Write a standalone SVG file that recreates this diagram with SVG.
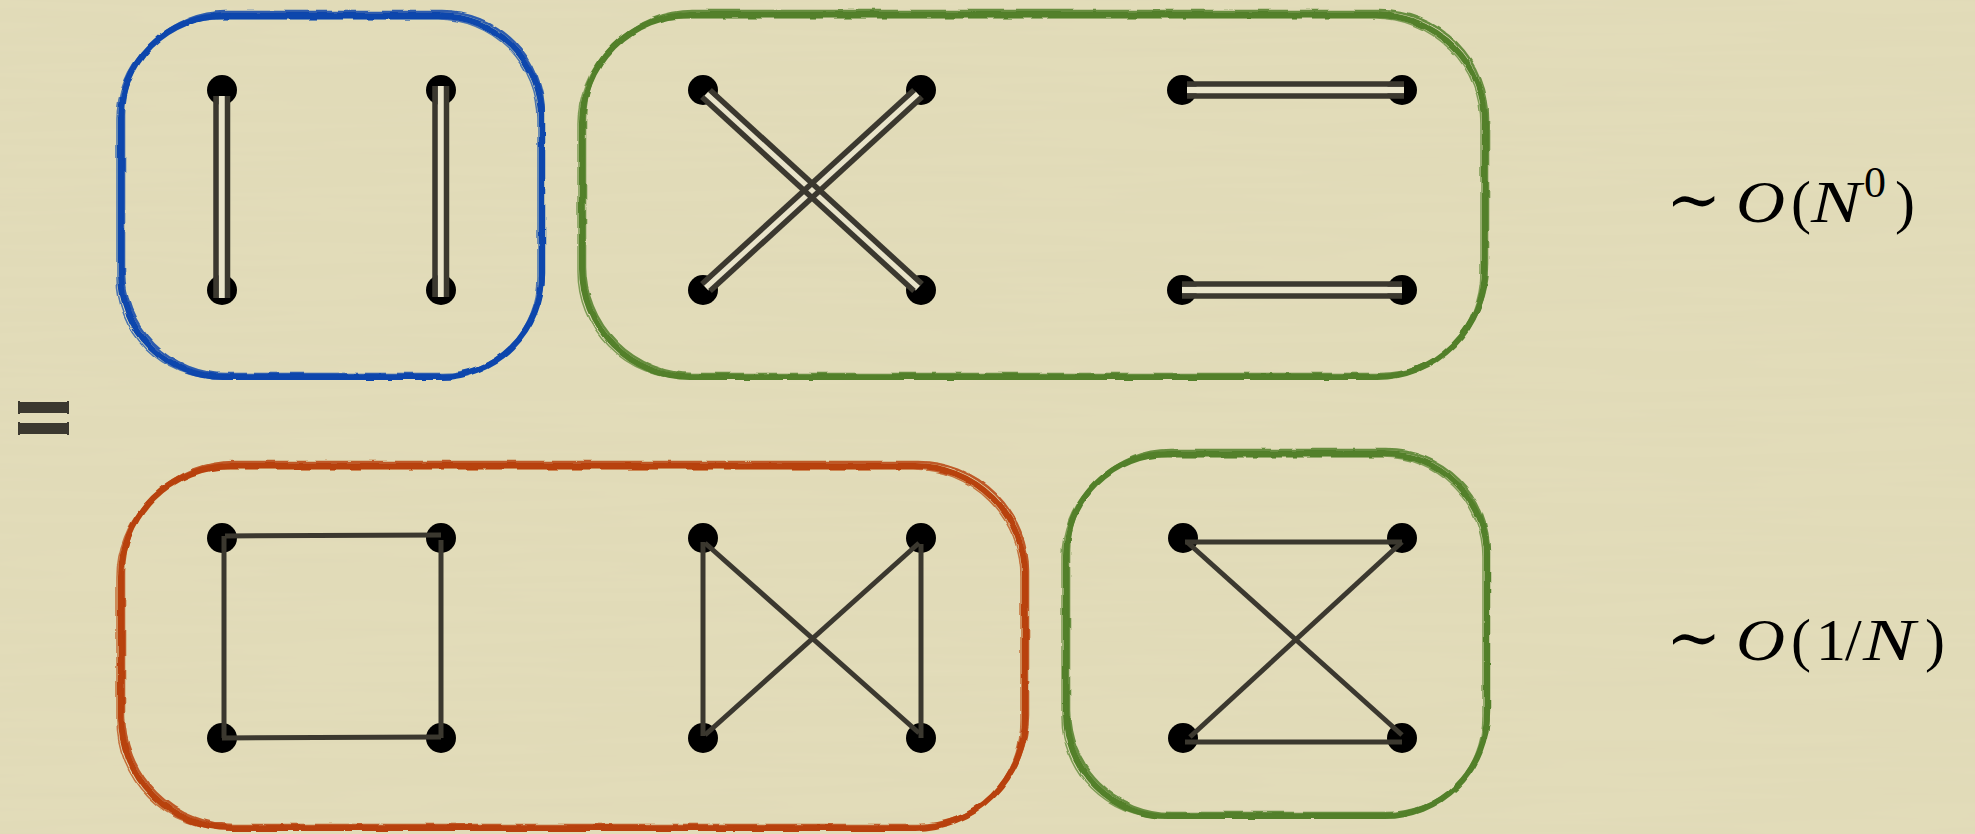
<svg xmlns="http://www.w3.org/2000/svg" width="1975" height="834" viewBox="0 0 1975 834">
<defs>
<filter id="rough" x="-5%" y="-5%" width="110%" height="110%">
<feTurbulence type="fractalNoise" baseFrequency="0.05" numOctaves="2" seed="3" result="n"/>
<feDisplacementMap in="SourceGraphic" in2="n" scale="4" xChannelSelector="R" yChannelSelector="G"/>
</filter>
<filter id="paper" x="0" y="0" width="100%" height="100%">
<feTurbulence type="fractalNoise" baseFrequency="0.004 0.09" numOctaves="2" seed="7" result="t"/>
<feColorMatrix in="t" type="matrix" values="0 0 0 0 0.5  0 0 0 0 0.45  0 0 0 0 0.3  0 0 0 0.08 0"/>
</filter>
</defs>
<style>
.bg{fill:#e3ddba}
.box{fill:none}
.b1{stroke-width:6}
.b2{stroke-width:2.5;opacity:.85}
.b3{stroke-width:1.5;opacity:.7}
.blue{stroke:#0a46ad}
.green{stroke:#52802a}
.orange{stroke:#b8420a}
.dot{fill:#000}
.e{stroke:#3b382f;stroke-width:5;fill:none}
.d{stroke:#3b382f;stroke-width:5.5;fill:none}
.in{stroke:#e9e4ca;stroke-width:7;fill:none}
.eq{stroke:#3b382f;stroke-width:11}
.tk{stroke:#3b382f;stroke-width:2}
</style>
<rect class="bg" x="0" y="0" width="1975" height="834"/>
<rect x="0" y="0" width="1975" height="834" filter="url(#paper)"/>

<g id="box-blue" filter="url(#rough)">
<rect class="box b1 blue" x="121" y="16" width="421" height="361" rx="102"/>
<rect class="box b2 blue" x="124" y="12" width="420" height="362" rx="102"/>
<rect class="box b3 blue" x="117" y="19" width="421" height="359" rx="100"/>
</g>
<g id="box-green-top" filter="url(#rough)">
<rect class="box b1 green" x="582" y="15" width="903" height="362" rx="108"/>
<rect class="box b2 green" x="585" y="11" width="903" height="363" rx="108"/>
<rect class="box b3 green" x="578" y="18" width="903" height="360" rx="106"/>
</g>
<g id="box-orange" filter="url(#rough)">
<rect class="box b1 orange" x="121" y="466" width="904" height="362" rx="110"/>
<rect class="box b2 orange" x="124" y="462" width="904" height="363" rx="110"/>
<rect class="box b3 orange" x="117" y="469" width="904" height="360" rx="108"/>
</g>
<g id="box-green-bottom" filter="url(#rough)">
<rect class="box b1 green" x="1066" y="454" width="421" height="362" rx="102"/>
<rect class="box b2 green" x="1069" y="450" width="420" height="363" rx="102"/>
<rect class="box b3 green" x="1062" y="457" width="421" height="360" rx="100"/>
</g>

<g id="n1"><circle class="dot" cx="222" cy="90" r="15"/></g>
<g id="n2"><circle class="dot" cx="441" cy="90" r="15"/></g>
<g id="n3"><circle class="dot" cx="222" cy="290" r="15"/></g>
<g id="n4"><circle class="dot" cx="441" cy="290" r="15"/></g>
<g id="n5"><circle class="dot" cx="703" cy="90" r="15"/></g>
<g id="n6"><circle class="dot" cx="921" cy="90" r="15"/></g>
<g id="n7"><circle class="dot" cx="703" cy="290" r="15"/></g>
<g id="n8"><circle class="dot" cx="921" cy="290" r="15"/></g>
<g id="n9"><circle class="dot" cx="1182" cy="90" r="15"/></g>
<g id="n10"><circle class="dot" cx="1402" cy="90" r="15"/></g>
<g id="n11"><circle class="dot" cx="1182" cy="290" r="15"/></g>
<g id="n12"><circle class="dot" cx="1402" cy="290" r="15"/></g>
<g id="n13"><circle class="dot" cx="222" cy="538" r="15"/></g>
<g id="n14"><circle class="dot" cx="441" cy="538" r="15"/></g>
<g id="n15"><circle class="dot" cx="222" cy="738" r="15"/></g>
<g id="n16"><circle class="dot" cx="441" cy="738" r="15"/></g>
<g id="n17"><circle class="dot" cx="703" cy="538" r="15"/></g>
<g id="n18"><circle class="dot" cx="921" cy="538" r="15"/></g>
<g id="n19"><circle class="dot" cx="703" cy="738" r="15"/></g>
<g id="n20"><circle class="dot" cx="921" cy="738" r="15"/></g>
<g id="n21"><circle class="dot" cx="1183" cy="538" r="15"/></g>
<g id="n22"><circle class="dot" cx="1402" cy="538" r="15"/></g>
<g id="n23"><circle class="dot" cx="1183" cy="738" r="15"/></g>
<g id="n24"><circle class="dot" cx="1402" cy="738" r="15"/></g>

<g id="connectors">
<line class="in" x1="222" y1="96" x2="222" y2="298"/>
<line class="d" x1="216" y1="96" x2="216" y2="298"/>
<line class="d" x1="227.5" y1="96" x2="227.5" y2="298"/>
<line class="in" x1="441" y1="86" x2="441" y2="297"/>
<line class="d" x1="435" y1="86" x2="435" y2="297"/>
<line class="d" x1="446.5" y1="86" x2="446.5" y2="297"/>

<line class="in" x1="706" y1="94" x2="918" y2="288"/>
<line class="in" x1="918" y1="94" x2="706" y2="288"/>
<line class="d" x1="710" y1="90" x2="922" y2="284"/>
<line class="d" x1="702" y1="97" x2="914" y2="291"/>
<line class="d" x1="914" y1="90" x2="702" y2="284"/>
<line class="d" x1="922" y1="97" x2="710" y2="291"/>

<line class="in" x1="1187" y1="90" x2="1404" y2="90"/>
<line class="d" x1="1187" y1="84" x2="1404" y2="84"/>
<line class="d" x1="1187" y1="96" x2="1404" y2="96"/>
<line class="in" x1="1182" y1="290" x2="1402" y2="290"/>
<line class="d" x1="1182" y1="284" x2="1402" y2="284"/>
<line class="d" x1="1182" y1="296" x2="1402" y2="296"/>

<line class="e" x1="225" y1="536" x2="441" y2="535"/>
<line class="e" x1="441" y1="540" x2="441" y2="738"/>
<line class="e" x1="222" y1="738" x2="441" y2="737"/>
<line class="e" x1="224" y1="536" x2="224" y2="738"/>

<line class="e" x1="703" y1="542" x2="703" y2="736"/>
<line class="e" x1="921" y1="544" x2="921" y2="738"/>
<line class="e" x1="705" y1="543" x2="919" y2="733"/>
<line class="e" x1="919" y1="543" x2="705" y2="735"/>

<line class="e" x1="1185" y1="542" x2="1402" y2="542"/>
<line class="e" x1="1185" y1="742" x2="1402" y2="742"/>
<line class="e" x1="1187" y1="542" x2="1402" y2="735"/>
<line class="e" x1="1402" y1="542" x2="1190" y2="737"/>
</g>

<g id="equals">
<line class="eq" x1="19" y1="407.5" x2="68" y2="407.5"/>
<line class="eq" x1="19" y1="428.5" x2="68" y2="428.5"/>
<line class="tk" x1="19" y1="401" x2="19" y2="414"/>
<line class="tk" x1="68" y1="401" x2="68" y2="414"/>
<line class="tk" x1="19" y1="422" x2="19" y2="435"/>
<line class="tk" x1="68" y1="422" x2="68" y2="435"/>
</g>

<g id="label-top" font-family="'Liberation Serif', 'Times New Roman', serif" font-size="60" fill="#000">
<text x="1666" y="222" font-family="'DejaVu Serif', serif" font-size="66">∼</text>
<text x="1736" y="222" font-style="italic" textLength="49" lengthAdjust="spacingAndGlyphs">O</text>
<text x="1791" y="222">(</text>
<text x="1811" y="222" font-style="italic" textLength="50" lengthAdjust="spacingAndGlyphs">N</text>
<text x="1864" y="197" font-size="44">0</text>
<text x="1895" y="222">)</text>
</g>
<g id="label-bottom" font-family="'Liberation Serif', 'Times New Roman', serif" font-size="60" fill="#000">
<text x="1666" y="660" font-family="'DejaVu Serif', serif" font-size="66">∼</text>
<text x="1736" y="660" font-style="italic" textLength="49" lengthAdjust="spacingAndGlyphs">O</text>
<text x="1791" y="660">(</text>
<text x="1816" y="660">1</text>
<text x="1845" y="660">/</text>
<text x="1863" y="660" font-style="italic" textLength="52" lengthAdjust="spacingAndGlyphs">N</text>
<text x="1925" y="660">)</text>
</g>
</svg>
